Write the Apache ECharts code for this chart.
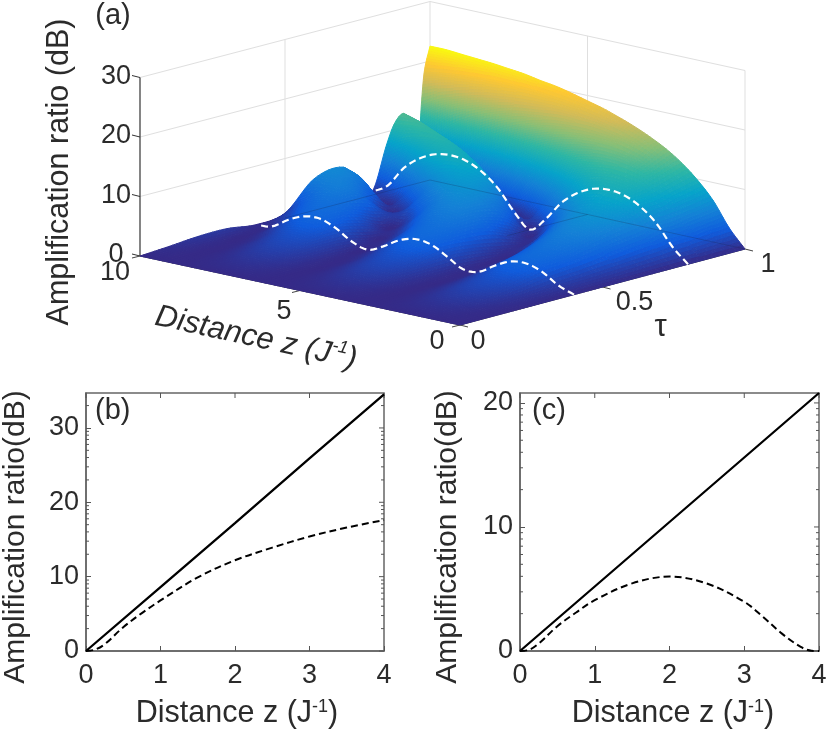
<!DOCTYPE html>
<html>
<head>
<meta charset="utf-8">
<style>
  html, body { margin: 0; padding: 0; background: #fff; }
  #chart { width: 830px; height: 734px; }
</style>
<script src="https://cdn.jsdelivr.net/npm/echarts@6/dist/echarts.min.js"></script>
</head>
<body>
<div id="chart"></div>
<script>
// ---------- panel (a): surface, one row per tau ---------- //
const zValues = [0, 0.5, 1, 1.5, 2, 2.5, 3, 3.5, 4, 4.5, 5, 5.5, 6, 6.5, 7, 7.5, 8, 8.5, 9, 9.5, 10];
const tauValues = [0, 0.1, 0.2, 0.3, 0.4, 0.5, 0.6, 0.7, 0.75, 0.8, 0.85, 0.875, 0.9, 0.915, 0.93, 0.94, 0.95, 0.96, 0.97, 0.98, 1];
const gainRows = [
    [0, 0, 0, 0, 0, 0, 0, 0, 0, 0, 0, 0, 0, 0, 0, 0, 0, 0, 0, 0, 0],
    [0, 0.12, 0.35, 0.47, 0.36, 0.12, 0, 0.11, 0.34, 0.47, 0.36, 0.13, 0, 0.1, 0.34, 0.47, 0.37, 0.14, 0, 0.1, 0.33],
    [0, 0.34, 0.96, 1.27, 1.03, 0.41, 0.01, 0.26, 0.89, 1.26, 1.09, 0.49, 0.02, 0.2, 0.81, 1.24, 1.13, 0.57, 0.05, 0.14, 0.73],
    [0, 0.61, 1.66, 2.19, 1.89, 0.92, 0.06, 0.34, 1.39, 2.12, 2.06, 1.23, 0.22, 0.13, 1.09, 1.99, 2.16, 1.52, 0.46, 0.01, 0.77],
    [0, 1, 2.65, 3.5, 3.25, 1.95, 0.34, 0.24, 1.8, 3.2, 3.55, 2.75, 1.15, 0.01, 0.85, 2.5, 3.5, 3.3, 2.1, 0.44, 0.16],
    [0, 1.24, 3.15, 4.22, 4.18, 3.03, 1.1, 0.01, 1.38, 3.26, 4.26, 4.13, 2.92, 0.96, 0.03, 1.5, 3.36, 4.28, 4.08, 2.81, 0.83],
    [0, 1.58, 3.91, 5.31, 5.58, 4.75, 2.82, 0.47, 0.48, 2.84, 4.76, 5.59, 5.31, 3.9, 1.56, 0, 1.6, 3.92, 5.31, 5.57, 5.3],
    [0, 1.93, 4.68, 6.44, 7.13, 6.84, 5.52, 3.11, 0.38, 0.81, 3.67, 5.87, 6.97, 7.07, 6.17, 4.19, 1.36, 0.11, 2.51, 5, 6],
    [0, 2.1, 5.06, 7, 7.95, 7.98, 7.11, 5.24, 2.33, 0.02, 1.88, 4.89, 6.92, 7.91, 8, 7.2, 5.4, 2.55, 0.05, 1.5, 3],
    [0, 2.4, 5.7, 7.9, 9.2, 9.6, 9.2, 7.9, 5.7, 2.4, 0, 2.4, 5.7, 7.9, 9.2, 9.6, 9.2, 7.9, 5.7, 2.2, 0.6],
    [0, 2.46, 5.83, 8.18, 9.64, 10.39, 10.5, 10.01, 8.85, 6.88, 3.89, 0.47, 1.1, 4.63, 7.4, 9.16, 10.17, 10.53, 10.29, 9.41, 7.8],
    [0, 2.55, 6.02, 8.48, 10.08, 11, 11.37, 11.21, 10.52, 9.21, 7.12, 4.01, 0.53, 1.17, 4.79, 7.63, 9.55, 10.72, 11.29, 11.33, 10.85],
    [0, 2.64, 6.21, 8.79, 10.52, 11.63, 12.24, 12.4, 12.13, 11.41, 10.18, 8.27, 5.48, 1.73, 0.2, 3.54, 6.92, 9.26, 10.83, 11.82, 12.31],
    [0, 2.7, 6.32, 8.95, 10.78, 12, 12.75, 13.1, 13.08, 12.68, 11.87, 10.59, 8.69, 5.89, 2.17, 0.08, 3.22, 6.72, 9.24, 10.98, 12.13],
    [0, 2.72, 6.44, 9.14, 11.04, 12.37, 13.26, 13.8, 14.01, 13.9, 13.48, 12.71, 11.52, 9.83, 7.43, 4.07, 0.4, 1.49, 5.34, 8.38, 10.51],
    [0, 2.85, 6.52, 9.27, 11.24, 12.64, 13.63, 14.28, 14.63, 14.7, 14.52, 14.04, 13.26, 12.11, 10.49, 8.26, 5.13, 1.18, 0.58, 4.47, 7.78],
    [0, 2.86, 6.59, 9.39, 11.4, 12.89, 13.96, 14.73, 15.22, 15.47, 15.5, 15.29, 14.85, 14.15, 13.14, 11.73, 9.88, 7.27, 3.71, 0.14, 1.91],
    [0, 2.83, 6.69, 9.5, 11.57, 13.13, 14.46, 15.3, 15.92, 16.32, 16.46, 16.59, 16.35, 16, 15.6, 14.86, 13.85, 12.55, 10.84, 8, 4.66],
    [0, 2.88, 6.79, 9.64, 11.76, 13.4, 14.67, 15.65, 16.41, 16.99, 17.39, 17.66, 17.77, 17.75, 17.6, 17.28, 16.9, 16.26, 15.46, 14.44, 12.9],
    [0, 2.97, 6.85, 9.77, 11.95, 13.65, 14.99, 16.1, 16.99, 17.72, 18.3, 18.76, 19.1, 19.36, 19.51, 19.56, 19.52, 19.38, 19.16, 18.82, 18.38],
    [0, 2.96, 6.9, 9.8, 12.1, 13.9, 15.3, 16.5, 17.5, 18.4, 19.1, 19.8, 20.4, 20.8, 21.3, 21.6, 21.9, 22.1, 22.3, 22.5, 22.5]
];
const dashedTauRows = [4, 9]; // rows tau = 0.4 and tau = 0.8
const gainTicksA = [0, 10, 20, 30];
const zTicksA = [0, 5, 10];
const tauTicksA = [0, 0.5, 1];
const parulaStops = ['#352a87', '#0f5cdd', '#1481d6', '#06a4ca', '#2eb7a4', '#87bf77', '#d1bb59', '#fec832', '#f9fb0e'];
const colorMax = 22.5;

// ---------- panels (b) and (c) ---------- //
const distanceTicks = [0, 1, 2, 3, 4];
const solidB = [0, 8.6, 17.2, 25.9, 34.5];
const dashedBz = [0, 0.125, 0.25, 0.5, 0.75, 1, 1.5, 2, 2.5, 3, 3.5, 4];
const dashedB = [0, 0.2, 0.9, 3.2, 5.1, 6.8, 9.9, 12.2, 13.9, 15.4, 16.6, 17.6];
const solidC = [0, 5.2, 10.4, 15.6, 20.8];
const dashedCz = [0, 0.125, 0.25, 0.5, 0.75, 1, 1.5, 2, 2.5, 3, 3.25, 3.5, 3.75, 3.9, 4];
const dashedC = [0, 0.1, 0.6, 2, 3.1, 4.1, 5.45, 6, 5.44, 3.97, 2.76, 1.42, 0.35, 0.02, 0];
const logMinorSteps = [3.01, 4.77, 6.02, 6.99, 7.78, 8.45, 9.03, 9.54];

const textColor = '#2b2b2b';
const fontName = '"Liberation Sans", Arial, sans-serif';
const tickSize = 27;
const nameSize = 30;

// oblique view of the box in panel (a), result is in page units of the hidden axes
function project (z, tau, gain) {
    return [
        460 - 32 * z + 285 * tau + 0.5 * z * tau,
        325 - 6.9 * z - 76 * tau - 5.95 * gain
    ];
}

function parulaColor (gain) {
    const t = Math.min(1, Math.max(0, gain / colorMax)) * (parulaStops.length - 1);
    const i = Math.min(parulaStops.length - 2, Math.floor(t));
    return echarts.color.lerp(t - i, [parulaStops[i], parulaStops[i + 1]]);
}

// cubic hermite through a table column, only to shade between the table's cells
function hermite (xs, ys, i, t) {
    const n = xs.length;
    const h = xs[i + 1] - xs[i];
    const m0 = i > 0 ? (ys[i + 1] - ys[i - 1]) / (xs[i + 1] - xs[i - 1]) : (ys[i + 1] - ys[i]) / h;
    const m1 = i < n - 2 ? (ys[i + 2] - ys[i]) / (xs[i + 2] - xs[i]) : (ys[i + 1] - ys[i]) / h;
    const t2 = t * t, t3 = t2 * t;
    return (2 * t3 - 3 * t2 + 1) * ys[i] + (t3 - 2 * t2 + t) * h * m0 + (-2 * t3 + 3 * t2) * ys[i + 1] + (t3 - t2) * h * m1;
}

function gainAlongZ (row, i, u) {
    return Math.max(0, hermite(zValues, gainRows[row], i, u));
}

function gainAt (i, j, u, v) {
    const col = [];
    for (let r = 0; r < tauValues.length; r++) {
        // only the rows the hermite step needs
        col.push(r >= j - 1 && r <= j + 2 ? gainAlongZ(r, i, u) : 0);
    }
    return Math.max(0, hermite(tauValues, col, j, v));
}

function renderCell (params, api) {
    const i = api.value(0), j = api.value(1);
    const zA = zValues[i], zB = zValues[i + 1];
    const tA = tauValues[j], tB = tauValues[j + 1];
    const g00 = gainRows[j][i], g10 = gainRows[j][i + 1], g01 = gainRows[j + 1][i], g11 = gainRows[j + 1][i + 1];
    // facets stay about 3 or 4 pixels on screen, steep cells need more of them
    const nu = Math.max(5, Math.ceil(Math.max(Math.abs(g10 - g00), Math.abs(g11 - g01)) * 5.95 / 3));
    const nv = Math.max(1, Math.ceil((tB - tA) * 285 / 4), Math.ceil(Math.max(Math.abs(g01 - g00), Math.abs(g11 - g10)) * 5.95 / 3));
    const net = [];
    for (let a = 0; a <= nu; a++) {
        const line = [];
        for (let b = 0; b <= nv; b++) {
            const g = gainAt(i, j, a / nu, b / nv);
            const z = zA + (zB - zA) * a / nu;
            const tau = tA + (tB - tA) * b / nv;
            line.push({g: g, p: api.coord(project(z, tau, g))});
        }
        net.push(line);
    }
    const children = [];
    for (let a = nu - 1; a >= 0; a--) {
        for (let b = nv - 1; b >= 0; b--) {
            const q = [net[a][b], net[a + 1][b], net[a + 1][b + 1], net[a][b + 1]];
            const c = parulaColor((q[0].g + q[1].g + q[2].g + q[3].g) / 4);
            children.push({
                type: 'polygon',
                shape: {points: q.map(v => v.p)},
                style: {fill: c, stroke: c, lineWidth: 1},
                silent: true
            });
        }
    }
    return {type: 'group', children: children};
}

function segment (api, from, to, color, width, dash) {
    const a = api.coord(from), b = api.coord(to);
    return {
        type: 'line',
        shape: {x1: a[0], y1: a[1], x2: b[0], y2: b[1]},
        style: {stroke: color, lineWidth: width, lineDash: dash || null},
        silent: true
    };
}

function label (api, at, dx, dy, text, size, extra) {
    const p = api.coord(at);
    return Object.assign({
        type: 'text',
        x: p[0] + dx,
        y: p[1] + dy,
        silent: true,
        style: {text: text, fill: textColor, font: size + 'px ' + fontName, align: 'center', verticalAlign: 'middle'}
    }, extra || {});
}

// back walls, drawn under the surface
function renderWalls (params, api) {
    const wall = '#dfdfdf';
    const kids = [];
    gainTicksA.forEach(g => {
        kids.push(segment(api, project(10, 0, g), project(10, 1, g), wall, 1));
        kids.push(segment(api, project(10, 1, g), project(0, 1, g), wall, 1));
    });
    const top = gainTicksA[gainTicksA.length - 1];
    kids.push(segment(api, project(10, 0.5, 0), project(10, 0.5, top), wall, 1));
    kids.push(segment(api, project(10, 1, 0), project(10, 1, top), wall, 1));
    kids.push(segment(api, project(5, 1, 0), project(5, 1, top), wall, 1));
    kids.push(segment(api, project(0, 1, 0), project(0, 1, top), wall, 1));
    // box edges that carry the ticks
    kids.push(segment(api, project(10, 0, 0), project(10, 0, top), '#333', 1.2));
    kids.push(segment(api, project(10, 0, 0), project(0, 0, 0), '#444', 1.2));
    kids.push(segment(api, project(0, 0, 0), project(0, 1, 0), '#444', 1.2));
    gainTicksA.forEach(g => {
        const p = project(10, 0, g);
        kids.push(segment(api, p, [p[0] - 8, p[1] - 2], '#333', 1));
    });
    zTicksA.forEach(z => {
        const p = project(z, 0, 0);
        kids.push(segment(api, p, [p[0] - 8, p[1] + 2], '#444', 1));
    });
    tauTicksA.forEach(t => {
        const p = project(0, t, 0);
        kids.push(segment(api, p, [p[0] + 8, p[1] + 2], '#444', 1));
    });
    return {type: 'group', children: kids};
}

// dashed slices, faint base grid and all the labels of panel (a)
function renderOverlay (params, api) {
    const kids = [];
    const faint = 'rgba(25,30,70,0.22)';
    kids.push(segment(api, project(10, 0.5, 0), project(10, 1, 0), faint, 1));
    kids.push(segment(api, project(10, 1, 0), project(0, 1, 0), faint, 1));
    kids.push(segment(api, project(5, 0.72, 0), project(5, 1, 0), faint, 1));

    dashedTauRows.forEach(row => {
        const pts = [];
        for (let i = 0; i < zValues.length - 1; i++) {
            for (let s = 0; s < 5; s++) {
                const z = zValues[i] + (zValues[i + 1] - zValues[i]) * s / 5;
                pts.push(api.coord(project(z, tauValues[row], gainAlongZ(row, i, s / 5))));
            }
        }
        kids.push({
            type: 'polyline',
            shape: {points: pts},
            style: {stroke: '#fff', lineWidth: 2.2, lineDash: [7, 4], fill: null},
            silent: true
        });
    });

    gainTicksA.forEach(g => kids.push(label(api, project(10, 0, g), -24, -1, String(g), tickSize)));
    kids.push(label(api, project(10, 0, 0), -25, 17, String(zTicksA[2]), tickSize));
    kids.push(label(api, project(5, 0, 0), -16, 21, String(zTicksA[1]), tickSize));
    kids.push(label(api, project(0, 0, 0), -23, 17, String(zTicksA[0]), tickSize));
    kids.push(label(api, project(0, 0, 0), 18, 17, String(tauTicksA[0]), tickSize));
    kids.push(label(api, project(0, 0.5, 0), 32, 16, String(tauTicksA[1]), tickSize));
    kids.push(label(api, project(0, 1, 0), 23, 16, String(tauTicksA[2]), tickSize));
    kids.push(label(api, project(0, 0.5, 0), 58, 40, 'τ', 31));
    kids.push(label(api, [113, 16], 0, 0, '(a)', 29));
    kids.push(label(api, [60, 172], 0, 0, 'Amplification ratio (dB)', 30.5, {rotation: Math.PI / 2}));
    kids.push({
        type: 'text',
        x: api.coord([256, 338])[0],
        y: api.coord([256, 338])[1],
        rotation: -0.215,
        silent: true,
        style: {
            text: '{a|Distance z (J}{s|-1}{a|)}',
            align: 'center',
            verticalAlign: 'middle',
            rich: {
                a: {font: 'italic 31px ' + fontName, fill: textColor, lineHeight: 36},
                s: {font: 'italic 18px ' + fontName, fill: textColor, verticalAlign: 'top', lineHeight: 36}
            }
        }
    });
    return {type: 'group', children: kids};
}

// minor ticks on both sides plus the mirrored major ticks of a 2d panel
function frameTicks (yMax, gridIndex, yMajors) {
    const minors = [];
    yMajors.forEach(d => logMinorSteps.forEach(s => {
        if (d + s < yMax) minors.push(d + s);
    }));
    return {
        type: 'custom',
        xAxisIndex: gridIndex,
        yAxisIndex: gridIndex,
        data: [[0, 0]],
        silent: true,
        renderItem: function (params, api) {
            const kids = [];
            const tick = (from, dx, dy) => {
                const a = api.coord(from);
                kids.push({
                    type: 'line',
                    shape: {x1: a[0], y1: a[1], x2: a[0] + dx, y2: a[1] + dy},
                    style: {stroke: '#555', lineWidth: 1},
                    silent: true
                });
            };
            minors.forEach(v => {
                tick([0, v], 3, 0);
                tick([4, v], -3, 0);
            });
            yMajors.forEach(v => tick([4, v], -5, 0));
            distanceTicks.forEach(v => tick([v, yMax], 0, 5));
            return {type: 'group', children: kids};
        }
    };
}

function xAxisFor (gridIndex, namePad) {
    return {
        gridIndex: gridIndex,
        type: 'value',
        min: 0,
        max: 4,
        interval: 1,
        name: '{a|Distance z (J}{s|-1}{a|)}',
        nameLocation: 'middle',
        nameGap: 47,
        nameTextStyle: {
            padding: namePad,
            rich: {
                a: {fontFamily: fontName, fontSize: 30.5, color: textColor},
                s: {fontFamily: fontName, fontSize: 18, color: textColor, verticalAlign: 'top'}
            }
        },
        axisLine: {lineStyle: {color: '#666', width: 1.5}},
        axisTick: {inside: true, length: 5, lineStyle: {color: '#555'}},
        axisLabel: {color: textColor, fontFamily: fontName, fontSize: tickSize, margin: 11},
        splitLine: {show: false}
    };
}

function yAxisFor (gridIndex, yMax, gap) {
    return {
        gridIndex: gridIndex,
        type: 'value',
        min: 0,
        max: yMax,
        interval: 10,
        name: 'Amplification ratio(dB)',
        nameLocation: 'middle',
        nameGap: gap,
        nameTextStyle: {color: textColor, fontFamily: fontName, fontSize: nameSize, padding: [0, 30, 0, 0]},
        axisLine: {lineStyle: {color: '#666', width: 1.5}},
        axisTick: {inside: true, length: 5, lineStyle: {color: '#555'}},
        axisLabel: {color: textColor, fontFamily: fontName, fontSize: tickSize, margin: 7, showMaxLabel: false},
        splitLine: {show: false}
    };
}

function lineSeries (gridIndex, xs, ys, dashed) {
    return {
        type: 'line',
        xAxisIndex: gridIndex,
        yAxisIndex: gridIndex,
        data: xs.map((x, i) => [x, ys[i]]),
        showSymbol: false,
        smooth: dashed ? 0.35 : false,
        lineStyle: {color: '#000', width: dashed ? 2 : 2.3, type: dashed ? [7, 4] : 'solid'},
        silent: true
    };
}

// back cells first so that nearer cells paint over them
const surfaceCells = [];
for (let i = zValues.length - 2; i >= 0; i--) {
    for (let j = tauValues.length - 2; j >= 0; j--) {
        surfaceCells.push([i, j]);
    }
}

const yMaxB = 34.7;
const yMaxC = 20.8;

const chart = echarts.init(document.getElementById('chart'), null, {renderer: 'canvas'});
chart.setOption({
    animation: false,
    backgroundColor: '#fff',
    grid: [
        {left: 0, top: 0, width: 830, height: 734},
        {left: 84, top: 393, width: 300, height: 258, show: true, borderColor: '#666', borderWidth: 1.5, backgroundColor: 'transparent'},
        {left: 520, top: 393, width: 299, height: 258, show: true, borderColor: '#666', borderWidth: 1.5, backgroundColor: 'transparent'}
    ],
    xAxis: [
        {gridIndex: 0, type: 'value', min: 0, max: 830, show: false},
        xAxisFor(1, [0, 0, 0, 4]),
        xAxisFor(2, [0, 0, 0, 7])
    ],
    yAxis: [
        {gridIndex: 0, type: 'value', min: 0, max: 734, inverse: true, show: false},
        yAxisFor(1, yMaxB, 55),
        yAxisFor(2, yMaxC, 57)
    ],
    graphic: [
        {type: 'text', left: 95, top: 396, silent: true, style: {text: '(b)', fill: textColor, font: '29px ' + fontName}},
        {type: 'text', left: 532, top: 396, silent: true, style: {text: '(c)', fill: textColor, font: '29px ' + fontName}}
    ],
    series: [
        {type: 'custom', xAxisIndex: 0, yAxisIndex: 0, data: [[0, 0]], silent: true, renderItem: renderWalls},
        {type: 'custom', xAxisIndex: 0, yAxisIndex: 0, data: surfaceCells, silent: true, progressive: 0, renderItem: renderCell},
        {type: 'custom', xAxisIndex: 0, yAxisIndex: 0, data: [[0, 0]], silent: true, renderItem: renderOverlay},
        frameTicks(yMaxB, 1, [0, 10, 20, 30]),
        lineSeries(1, distanceTicks, solidB, false),
        lineSeries(1, dashedBz, dashedB, true),
        frameTicks(yMaxC, 2, [0, 10, 20]),
        lineSeries(2, distanceTicks, solidC, false),
        lineSeries(2, dashedCz, dashedC, true)
    ]
});
</script>
</body>
</html>
